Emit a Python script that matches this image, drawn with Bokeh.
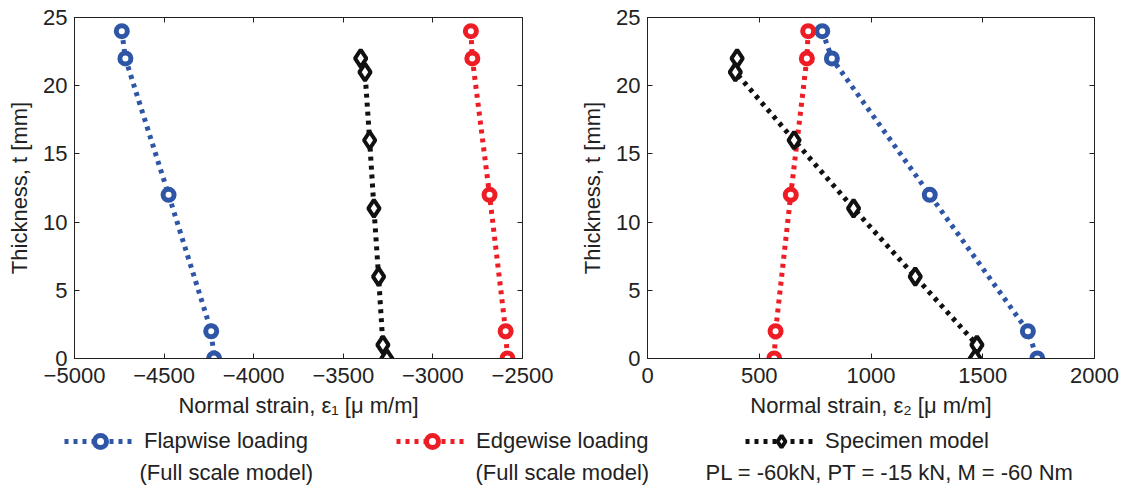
from bokeh.plotting import figure
from bokeh.models import Range1d, LinearAxis, Legend, LegendItem, Label, FixedTicker
from bokeh.layouts import row, column
from bokeh.embed import file_html
from bokeh.resources import INLINE

# ---- data ----
t_flap = [24, 22, 12, 2, 0]
t_edge = [24, 22, 12, 2, 0]
t_spec = [22, 21, 16, 11, 6, 1, 0]

e1_flap = [-4736, -4716, -4475, -4237, -4221]
e1_edge = [-2788, -2780, -2684, -2594, -2584]
e1_spec = [-3403, -3379, -3353, -3329, -3303, -3279, -3257]

e2_flap = [782, 825, 1263, 1702, 1744]
e2_edge = [719, 713, 641, 573, 567]
e2_spec = [401, 393, 656, 922, 1198, 1474, 1466]

x1_ticks = [-5000, -4500, -4000, -3500, -3000, -2500]
x2_ticks = [0, 500, 1000, 1500, 2000]
y_ticks = [0, 5, 10, 15, 20, 25]

labels = ["Flapwise loading", "Edgewise loading", "Specimen model"]
sublabels = ["(Full scale model)", "(Full scale model)", "PL = -60kN, PT = -15 kN, M = -60 Nm"]

BLUE = "#2f56a6"
RED = "#ee1c25"
BLACK = "#111111"
FONT = "Liberation Sans"
FS = "22px"

LW = 5
DASH = "4 5"
SERIES = [("circle", 11, 5, BLUE), ("circle", 11, 5, RED), ("diamond", 17, 4, BLACK)]


def style_axis(ax, ticks, show_labels=True):
    ax.ticker = FixedTicker(ticks=ticks)
    ax.major_tick_in = 5
    ax.major_tick_out = 0
    ax.minor_tick_line_color = None
    ax.axis_line_color = "#222222"
    ax.major_tick_line_color = "#222222"
    ax.major_label_text_font = FONT
    ax.major_label_text_font_size = FS
    ax.major_label_text_color = "#222222"
    ax.axis_label_text_font = FONT
    ax.axis_label_text_font_size = FS
    ax.axis_label_text_font_style = "normal"
    ax.axis_label_text_color = "#222222"
    if not show_labels:
        ax.major_label_overrides = {t: "" for t in ticks}
        ax.major_label_standoff = 0


def make_fig(xr, xticks, xlabel, bl, fw, br, ex_f, ex_e, ex_s):
    p = figure(frame_width=fw, frame_height=341, min_border_left=bl, min_border_right=br,
               min_border_top=17, min_border_bottom=62,
               x_range=Range1d(*xr), y_range=Range1d(0, 25),
               output_backend="svg", toolbar_location=None)
    p.grid.grid_line_color = None
    p.outline_line_color = "#222222"
    p.background_fill_color = "white"
    p.border_fill_color = "white"
    style_axis(p.xaxis[0], xticks)
    style_axis(p.yaxis[0], y_ticks)
    p.xaxis[0].axis_label = xlabel
    p.xaxis[0].major_label_standoff = 9
    p.xaxis[0].axis_label_standoff = 7
    p.yaxis[0].axis_label = "Thickness, t [mm]"
    p.yaxis[0].major_label_standoff = 7
    p.yaxis[0].axis_label_standoff = 8
    top = LinearAxis()
    style_axis(top, xticks, False)
    right = LinearAxis()
    style_axis(right, y_ticks, False)
    p.add_layout(top, "above")
    p.add_layout(right, "right")

    data = [(ex_f, t_flap), (ex_e, t_edge), (ex_s, t_spec)]
    for (xs, ts), (m, sz, lw, c) in zip(data, SERIES):
        p.line(xs, ts, line_color=c, line_width=LW, line_dash=DASH, line_cap="butt")
    for (xs, ts), (m, sz, lw, c) in zip(data, SERIES):
        p.scatter(xs, ts, marker=m, size=sz, line_width=lw, line_color=c, fill_color="white")
    return p


p1 = make_fig((-5000, -2500), x1_ticks, "Normal strain, ε\u2081 [μ m/m]", 74, 448, 38,
              e1_flap, e1_edge, e1_spec)
p2 = make_fig((0, 2000), x2_ticks, "Normal strain, ε\u2082 [μ m/m]", 87, 447, 35,
              e2_flap, e2_edge, e2_spec)

# ---- legend strip: renderers hold the real series, but lie outside this strip's ranges ----
LH = 70
leg = figure(frame_width=1129, frame_height=LH, min_border=0,
             x_range=Range1d(0, 1), y_range=Range1d(0, 1),
             x_axis_type=None, y_axis_type=None,
             output_backend="svg", toolbar_location=None)
leg.grid.grid_line_color = None
leg.outline_line_color = None

legend_x = [64, 396, 745]
sub_x = [139, 475, 705]
leg_data = [(e1_flap, t_flap), (e1_edge, t_edge), (e1_spec, t_spec)]
for i, ((xs, ts), (m, sz, lw, c)) in enumerate(zip(leg_data, SERIES)):
    lr = leg.line(xs, ts, line_color=c, line_width=LW, line_dash=DASH, line_cap="butt")
    sr = leg.scatter(xs, ts, marker=m, size=sz, line_color=c, fill_color="white",
                     line_width=lw)
    lg = Legend(items=[LegendItem(label=labels[i], renderers=[lr, sr])],
                location=(legend_x[i], 34), orientation="horizontal",
                glyph_width=72, glyph_height=30, label_standoff=8,
                padding=0, margin=0, border_line_color=None, background_fill_alpha=0,
                label_text_font=FONT, label_text_font_size=FS, label_text_color="#222222")
    leg.add_layout(lg, "center")
    leg.add_layout(Label(x=sub_x[i], y=18, x_units="screen", y_units="screen",
                         text=sublabels[i], text_font=FONT, text_font_size=FS,
                         text_color="#222222", text_baseline="middle"))

layout = column(row(p1, p2), leg)
open("out.html", "w").write(file_html(layout, INLINE))
